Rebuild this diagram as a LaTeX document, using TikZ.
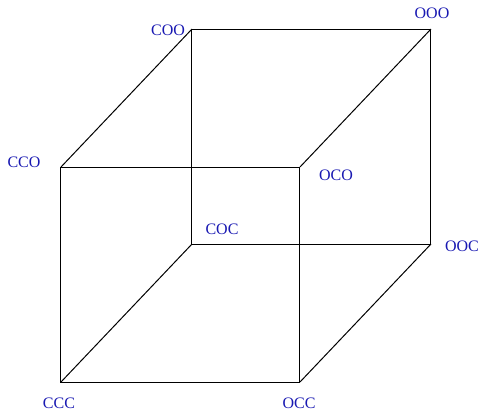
\documentclass[tikz,border=0pt]{standalone}
\usepackage{fontspec}
\setmainfont{Liberation Serif}
\usetikzlibrary{positioning}
\definecolor{etiqblue}{rgb}{0.10,0.10,0.70}
\tikzset{
  vertice/.style={
    inner sep=0pt,
    text=etiqblue,
    font=\fontsize{12}{14}\selectfont
  },
  arista/.style={
    line width=0.75pt,
    black
  }
}
\begin{document}
\begin{tikzpicture}[x=0.75pt,y=-0.75pt]
\useasboundingbox (0,0) rectangle (480,415);
% vertices
\coordinate (cco) at (61,167);
\coordinate (oco) at (300,167);
\coordinate (ccc) at (61,382);
\coordinate (occ) at (300,382);
\coordinate (coo) at (192,29);
\coordinate (ooo) at (431,29);
\coordinate (coc) at (192,244);
\coordinate (ooc) at (431,244);
% labels
\node[vertice] (lcoo) at (168,30) {COO};
\node[vertice] (looo) at (432,13) {OOO};
\node[vertice] (lcco) at (24,162) {CCO};
\node[vertice] (loco) at (336,175) {OCO};
\node[vertice] (lcoc) at (222,229) {COC};
\node[vertice] (looc) at (462,246) {OOC};
\node[vertice] (lccc) at (59,403) {CCC};
\node[vertice] (locc) at (299,403) {OCC};
% edges
\draw[arista] (cco) -- (oco) -- (occ) -- (ccc) -- cycle;
\draw[arista] (coo) -- (ooo) -- (ooc) -- (coc) -- cycle;
\draw[arista] (cco) -- (coo);
\draw[arista] (oco) -- (ooo);
\draw[arista] (ccc) -- (coc);
\draw[arista] (occ) -- (ooc);
\end{tikzpicture}
\end{document}
